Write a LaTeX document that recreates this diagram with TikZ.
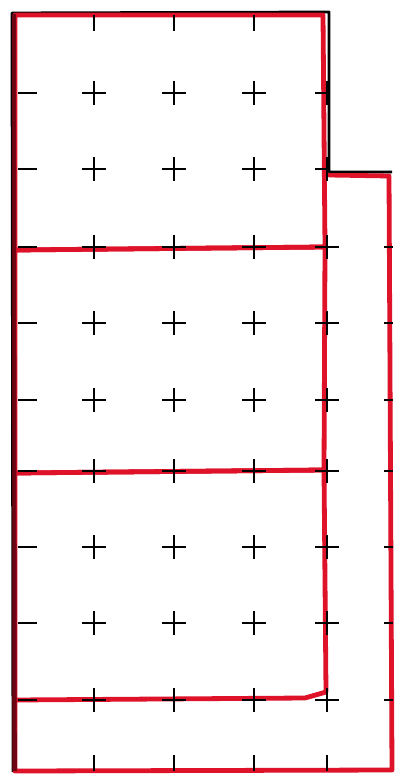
\documentclass[tikz,border=0pt]{standalone}
\definecolor{penred}{RGB}{222,18,40}
\definecolor{darkred}{RGB}{110,5,20}
\tikzset{
  redline/.style={draw=penred,line width=2.4pt,line join=round,line cap=round},
  blackline/.style={draw=black,line width=1.4pt,line join=round},
  crossmark/.style={draw=black,line width=1.1pt}
}
\begin{document}
\begin{tikzpicture}[x=0.5pt,y=-0.5pt]
\useasboundingbox (0,0) rectangle (396,774);
\fill[white] (0,0) rectangle (396,774);
% outer black outline
\draw[blackline] (392,172) -- (329,172) -- (329,12) -- (12,13) -- (13,772);
% red regions
\draw[redline] (15,15) -- (323,15) -- (325,247) -- (15,250) -- cycle;
\draw[redline] (15,250) -- (325,247) -- (324,470) -- (15,473) -- cycle;
\draw[redline] (15,473) -- (324,470) -- (326,692) -- (305,698) -- (15,700) -- cycle;
\draw[redline] (329,175) -- (389,176) -- (392,770) -- (15,771) -- (15,700);
\draw[draw=darkred,line width=1.8pt] (14,14) -- (15,771);
\draw[blackline] (329,172) -- (392,172);
% interior crosses clipped to the outline
\begin{scope}
\clip (14,13) -- (329,13) -- (329,172) -- (393,172) -- (393,772) -- (14,772) -- cycle;
\foreach \x in {94,174,254,327}{
  \foreach \y in {93,169,247,323,400,471,547,623,700}{
    \draw[crossmark] (\x-12,\y) -- (\x+12,\y) (\x,\y-12) -- (\x,\y+12);
  }
}
\end{scope}
% edge ticks
\foreach \y in {93,169,247,323,400,471,547,623,700}{
  \draw[crossmark] (18,\y) -- (37,\y);
}
\foreach \y in {247,323,400,471,547,623,700}{
  \draw[crossmark] (384,\y) -- (393,\y);
}
\foreach \x in {94,174,254}{
  \draw[crossmark] (\x,15) -- (\x,31);
}
\foreach \x in {94,174,254,327}{
  \draw[crossmark] (\x,755) -- (\x,771);
}
\end{tikzpicture}
\end{document}
